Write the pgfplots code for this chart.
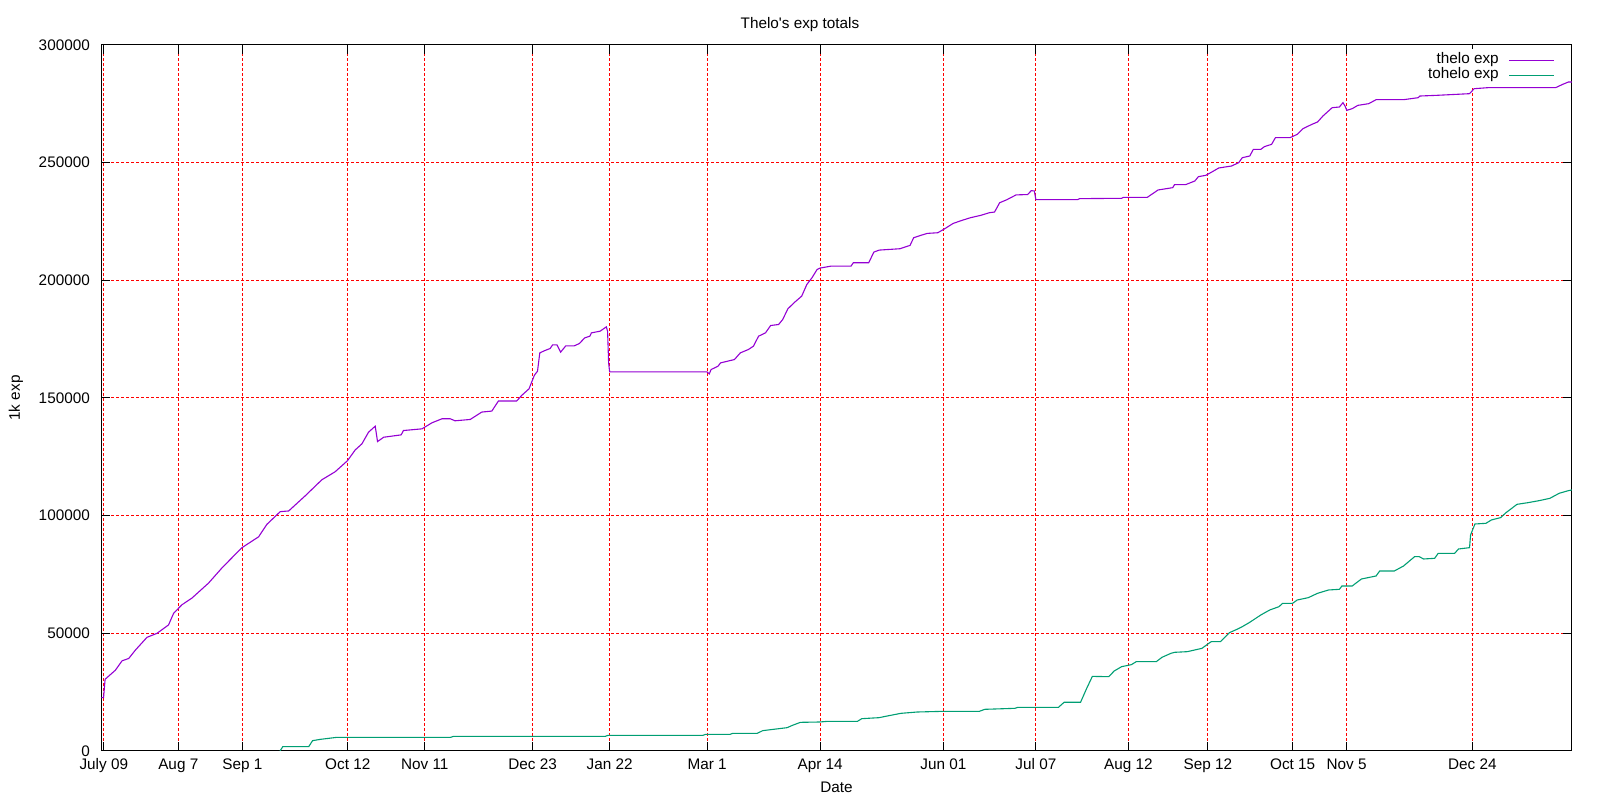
\documentclass[border=0pt]{standalone}
\usepackage{fontspec}
\setmainfont{Liberation Sans}
\usepackage{pgfplots}
\pgfplotsset{compat=1.18}
\definecolor{thelo}{HTML}{9400D3}
\definecolor{tohelo}{HTML}{009E73}
\begin{document}
\fontsize{15.3}{18}\selectfont
\begin{tikzpicture}[font=\fontsize{15.3}{18}\selectfont]
\path[use as bounding box] (0pt,0pt) rectangle (1600pt,800pt);
\begin{axis}[
  at={(101pt,49pt)}, anchor=south west,
  scale only axis, width=1471pt, height=706pt,
  xmin=-1.1, xmax=571.8, ymin=0, ymax=300000,
  xtick={0,29,54,95,125,167,197,235,279,327,363,399,430,463,484,533},
  xticklabels={July 09,Aug 7,Sep 1,Oct 12,Nov 11,Dec 23,Jan 22,Mar 1,Apr 14,Jun 01,Jul 07,Aug 12,Sep 12,Oct 15,Nov 5,Dec 24},
  ytick={0,50000,100000,150000,200000,250000,300000},
  scaled y ticks=false,
  /pgf/number format/assume math mode=true,
  yticklabel style={/pgf/number format/fixed,/pgf/number format/1000 sep={},inner sep=0pt,anchor=east,xshift=-11pt},
  xticklabel style={inner sep=0pt,anchor=base,yshift=-18pt},
  grid=major,
  major grid style={red,line width=1pt,dash pattern=on 2.5pt off 2.5pt},
  tick align=inside, major tick length=9pt,
  tick style={black,line width=1pt},
  axis line style={black,line width=1pt},
  title={Thelo\textquotesingle s exp totals},
  title style={at={(axis description cs:0.4752,1.0255)},anchor=base,yshift=-8pt,inner sep=0pt},
  xlabel={Date},
  xlabel style={at={(axis description cs:0.5,-0.0581)},anchor=base,inner sep=0pt},
  ylabel={1k exp},
  ylabel style={at={(axis description cs:-0.05507,0.5)},anchor=base,inner sep=0pt},
  legend plot pos=right,
  legend cell align=right,
  legend image code/.code={\draw[#1] (0pt,0pt) -- (45pt,0pt);},
  legend style={draw=none,fill=white,at={(axis description cs:1,1)},anchor=north east,
    xshift=-14pt,yshift=-4pt,inner xsep=3pt,inner ysep=3.5pt,row sep=0pt,column sep=10pt,
    nodes={inner sep=0pt,text height=11pt,text depth=4pt}},
]
\addplot[color=thelo,line width=1.1pt] coordinates {
(-1.0,22650) (-0.1,22650) (0.5,30480) (4.5,34330) (7.1,38320) (9.7,39320) (12.3,42880)
(16.8,48290) (20.7,50000) (25.2,53560) (27.2,58550) (30.4,62110) (34.3,64960) (40.8,71370)
(46.0,77780) (53.7,86320) (60.3,91030) (63.5,96300) (68.7,101710) (72.0,102000) (78.4,108400)
(84.9,115240) (90.1,118660) (94.9,123360) (97.9,127920) (100.5,130490) (103.1,135470)
(105.7,138030) (106.6,131480) (109.0,133330) (115.8,134330) (116.7,136180) (123.9,136890)
(127.8,139460) (131.7,141170) (134.9,141170) (136.8,140310) (142.7,140880) (147.2,144020)
(151.1,144440) (153.7,148720) (160.8,148720) (162.8,151140) (165.6,153900) (167.7,159690)
(168.9,161380) (169.8,169180) (171.8,170170) (173.8,171020) (174.8,172580) (176.5,172580)
(177.9,169460) (179.9,172150) (183.2,172150) (185.2,173140) (187.3,175550) (189.3,176260)
(189.9,177680) (193.3,178390) (195.7,180230) (196.2,178390) (196.6,164920) (197.0,161090)
(234.9,161090) (235.8,160240) (236.5,162080) (239.2,163500) (240.2,164920) (242.9,165630)
(245.6,166340) (247.9,169180) (251.0,170590) (253.0,172010) (255.0,176260) (257.7,177680)
(259.7,180800) (262.8,181230) (264.4,183350) (266.4,187890) (269.1,190730) (271.8,193280)
(273.8,198240) (275.8,201080) (277.8,204620) (278.9,205190) (283.2,206040) (291.0,206040)
(291.9,207460) (297.9,207460) (299.9,212000) (302.0,212850) (310.0,213420) (314.0,214840)
(315.4,218100) (318.1,219090) (320.7,219940) (324.8,220220) (327.5,221920) (330.8,224190)
(334.2,225470) (337.5,226600) (341.5,227600) (344.9,228730) (346.9,229010) (348.9,232980)
(351.6,234200) (355.3,236300) (359.8,236450) (361.2,238100) (362.4,237960) (363.0,234300)
(379.3,234300) (380.0,234710) (396.4,234850) (397.1,235270) (406.4,235270) (410.6,238390)
(416.3,239380) (417.0,240650) (421.3,240650) (424.9,242210) (426.3,244050) (429.2,244620)
(432.0,246320) (434.2,247730) (439.2,248580) (442.0,250000) (443.4,252120) (446.3,252830)
(447.7,255660) (450.6,255660) (452.0,256800) (454.8,257790) (456.3,260620) (462.0,260620)
(463.4,261330) (464.8,262040) (467.0,264440) (470.5,266280) (472.7,267280) (474.8,269820)
(478.4,273360) (481.2,273650) (482.6,275490) (483.4,274070) (484.1,272230) (486.2,272940)
(488.4,274350) (492.6,275060) (495.5,276760) (506.2,276760) (511.9,277610) (512.6,278320)
(519.0,278600) (531.9,279310) (533.7,281430) (539.0,281860) (565.4,281860) (568.2,283280)
(570.4,284270) (571.8,284270)
};
\addlegendentry{thelo exp}
\addplot[color=tohelo,line width=1.1pt] coordinates {
(68.6,0) (69.7,1840) (79.8,1840) (81.3,4390) (84.4,4960) (90.8,5810) (135.1,5810)
(136.2,6230) (195.3,6230) (196.4,6660) (233.3,6660) (234.4,7080) (243.9,7080) (245.0,7510)
(254.5,7510) (256.6,8640) (260.8,9210) (266.1,9910) (268.2,10910) (271.3,12180) (278.7,12320)
(281.9,12600) (293.5,12600) (295.2,13740) (301.9,14160) (305.1,14870) (310.4,16000)
(316.8,16570) (327.0,16860) (341.0,16860) (343.1,17710) (354.8,18130) (356.0,18560)
(371.8,18560) (374.0,20700) (380.4,20700) (382.8,26630) (385.0,31700) (391.4,31590)
(393.5,34000) (396.4,35840) (400.2,36690) (402.1,37960) (409.9,37960) (412.1,39800)
(415.6,41500) (417.0,41930) (422.0,42210) (427.7,43630) (430.0,45470) (431.3,46460)
(434.9,46460) (438.4,50290) (441.3,51700) (443.4,52840) (446.3,54680) (450.6,57800)
(454.1,59920) (457.7,61340) (459.1,62760) (463.0,62760) (464.8,64170) (469.1,65160)
(472.7,67000) (477.0,68420) (481.2,68700) (482.2,70120) (486.2,70120) (489.8,73090)
(495.5,74370) (496.9,76490) (502.6,76490) (506.2,78620) (510.5,82580) (512.3,82580)
(514.0,81590) (518.3,81870) (519.7,84000) (526.1,84000) (527.6,85840) (531.9,86400)
(532.3,91790) (534.0,96460) (538.3,96750) (540.4,98170) (544.0,99160) (546.1,101280)
(550.4,104820) (554.7,105530) (559.0,106380) (563.2,107370) (566.8,109500) (570.4,110630)
(571.8,110920)
};
\addlegendentry{tohelo exp}
\end{axis}
\end{tikzpicture}
\end{document}
